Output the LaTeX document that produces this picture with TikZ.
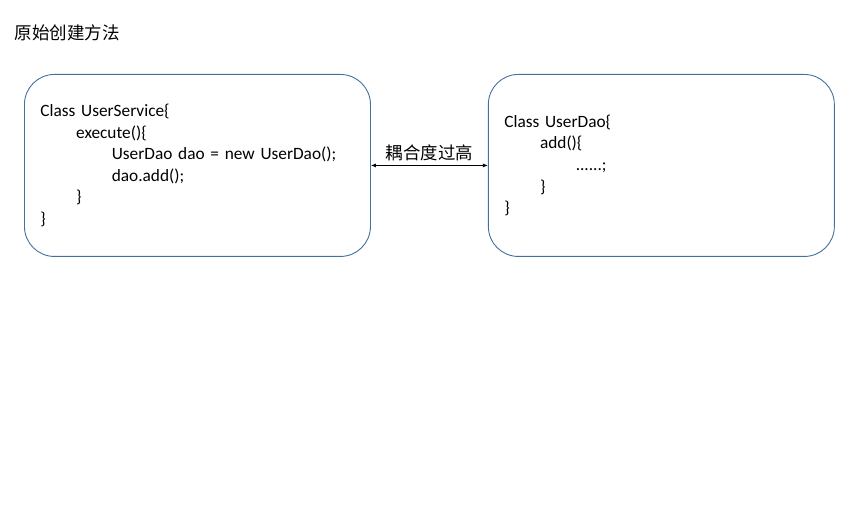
\documentclass[tikz,border=0pt]{standalone}
\usepackage{fontspec}
\setmainfont{Carlito}
\newfontfamily\cjk{Noto Sans CJK SC}
\usetikzlibrary{arrows.meta,positioning}
\definecolor{classColor}{RGB}{65,113,156}
\tikzset{classbox/.append style={draw=classColor, line width=0.9pt, align=left, text width=314pt, inner xsep=16pt, minimum height=182pt, rounded corners=30pt, font=\fontsize{17.3}{21.6}\selectfont}}
\newcommand{\tb}{\hspace*{35.7pt}}

\begin{document}
\begin{tikzpicture}[x=1pt, y=-1pt, node distance=0.3cm and 117pt]
    \useasboundingbox (0,0) rectangle (860,505);

    % Nodes
    \node (t0) [anchor=west, font=\cjk\fontsize{17.5}{19}\selectfont] at (11,33) {原始创建方法};
    \node (a0) [classbox, anchor=north west] at (24,74) {Class UserService\{\\
        \tb execute()\{\\
        \tb\tb UserDao dao = new UserDao();\\
        \tb\tb dao.add();\\
        \tb \}\\
        \}};
    \node (a1) [classbox, right=of a0] {Class UserDao\{\\
        \tb add()\{\\
        \tb\tb ......;\\
        \tb \}\\
        \}};

    % Connectors
    \draw [{Latex[length=5pt,width=4pt]}-{Latex[length=5pt,width=4pt]}, line width=0.8pt] (a0) -- node[above=1pt, font=\cjk\fontsize{17.4}{19}\selectfont]{耦合度过高} (a1);

\end{tikzpicture}
\end{document}
